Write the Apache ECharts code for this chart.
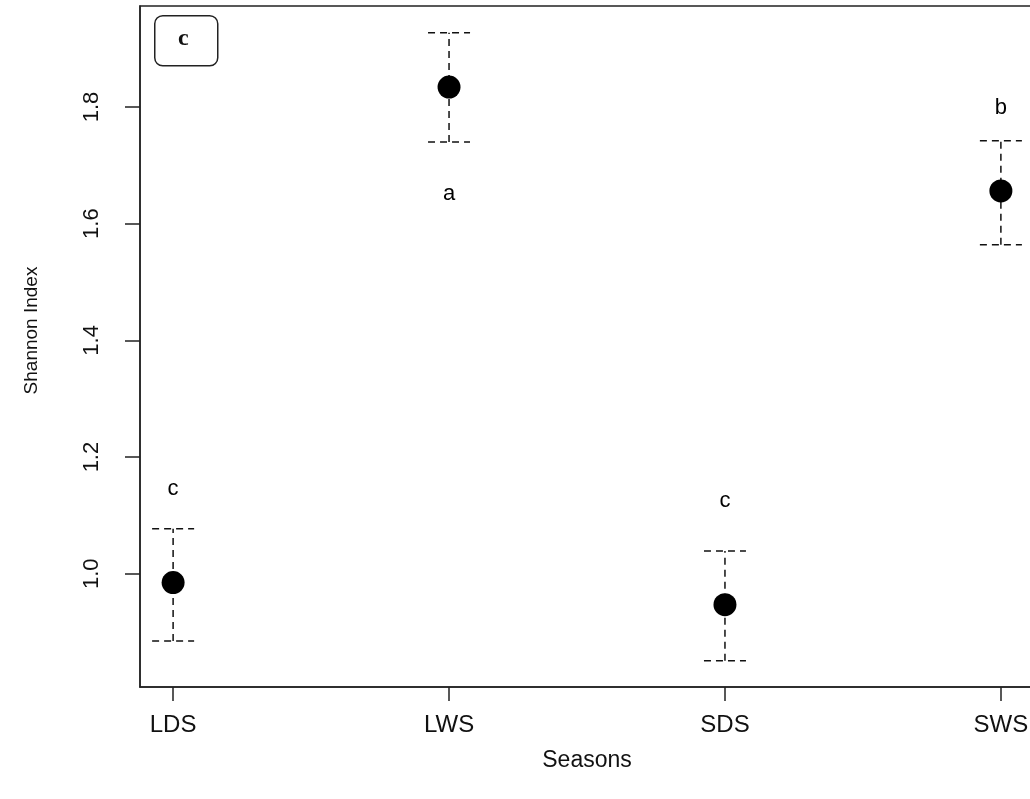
<!DOCTYPE html>
<html>
<head>
<meta charset="utf-8">
<script src="https://cdn.jsdelivr.net/npm/echarts@6/dist/echarts.min.js"></script>
<style>html,body{margin:0;padding:0;background:#fff}#c{width:1030px;height:799px}</style>
</head>
<body>
<div id="c"></div>
<script>
const categories = ['LDS', 'LWS', 'SDS', 'SWS'];
const means = [0.985, 1.834, 0.947, 1.656];
const upper = [1.077, 1.927, 1.039, 1.742];
const lower = [0.885, 1.740, 0.851, 1.564];
const letters = ['c', 'a', 'c', 'b'];
const letterY = [1.146, 1.651, 1.125, 1.798];
const yTicks = [1.0, 1.2, 1.4, 1.6, 1.8];
const xPos = [1, 2, 3, 4];

const font = 'Liberation Sans, Arial, sans-serif';
const chart = echarts.init(document.getElementById('c'));
chart.setOption({
  animation: false,
  backgroundColor: '#fff',
  grid: { left: 140, top: 6, width: 894, height: 681, outerBoundsMode: 'none', containLabel: false,
    show: true, borderColor: '#222', borderWidth: 1.5, backgroundColor: 'transparent' },
  xAxis: {
    type: 'value', min: 0.88, max: 4.12,
    splitLine: { show: false },
    axisLine: { show: true, lineStyle: { color: '#222', width: 1.5 } },
    axisTick: { show: true, length: 14, customValues: xPos, lineStyle: { color: '#222', width: 1.5 } },
    axisLabel: { customValues: xPos, margin: 26, fontSize: 24, fontFamily: font, color: '#111',
      formatter: v => categories[Math.round(v) - 1] || '' },
    name: 'Seasons', nameLocation: 'middle', nameGap: 62,
    nameTextStyle: { fontSize: 23, fontFamily: font, color: '#111' }
  },
  yAxis: {
    type: 'value', min: 0.806, max: 1.973,
    splitLine: { show: false },
    axisLine: { show: true, lineStyle: { color: '#222', width: 1.5 } },
    axisTick: { show: true, length: 15, customValues: yTicks, lineStyle: { color: '#222', width: 1.5 } },
    axisLabel: { customValues: yTicks, rotate: 90, margin: 37, fontSize: 22, fontFamily: font, color: '#111',
      formatter: v => v.toFixed(1) },
    name: 'Shannon Index', nameLocation: 'middle', nameGap: 99,
    nameTextStyle: { fontSize: 19, fontFamily: font, color: '#111', padding: [0, 0, 0, 32] }
  },
  graphic: [
    { type: 'rect', left: 154, top: 15, shape: { width: 63, height: 50, r: 8 }, style: { fill: '#fff', stroke: '#222', lineWidth: 1.5 } },
    { type: 'text', left: 178, top: 27, style: { text: 'c', font: 'bold 24px "Liberation Serif", "DejaVu Serif", serif', fill: '#111' } }
  ],
  series: [
    {
      type: 'custom',
      data: xPos.map((x, i) => [x, lower[i], upper[i]]),
      encode: { x: 0, y: [1, 2] },
      renderItem: function (params, api) {
        const x = api.value(0);
        const lo = api.coord([x, api.value(1)]);
        const hi = api.coord([x, api.value(2)]);
        const hw = 21;
        const st = { stroke: '#111', lineWidth: 1.5, lineDash: [7, 5] };
        return {
          type: 'group',
          children: [
            { type: 'line', shape: { x1: lo[0], y1: lo[1], x2: hi[0], y2: hi[1] }, style: st },
            { type: 'line', shape: { x1: hi[0] - hw, y1: hi[1], x2: hi[0] + hw, y2: hi[1] }, style: st },
            { type: 'line', shape: { x1: lo[0] - hw, y1: lo[1], x2: lo[0] + hw, y2: lo[1] }, style: st }
          ]
        };
      },
      z: 2
    },
    {
      type: 'scatter',
      data: xPos.map((x, i) => [x, means[i]]),
      symbol: 'circle', symbolSize: 23,
      itemStyle: { color: '#000', opacity: 1 },
      z: 3
    },
    {
      type: 'scatter',
      data: xPos.map((x, i) => [x, letterY[i], letters[i]]),
      symbolSize: 0,
      itemStyle: { opacity: 1 },
      label: { show: true, position: 'inside', formatter: p => p.value[2], fontSize: 22, fontFamily: font, color: '#000' },
      z: 4
    }
  ]
});
</script>
</body>
</html>
